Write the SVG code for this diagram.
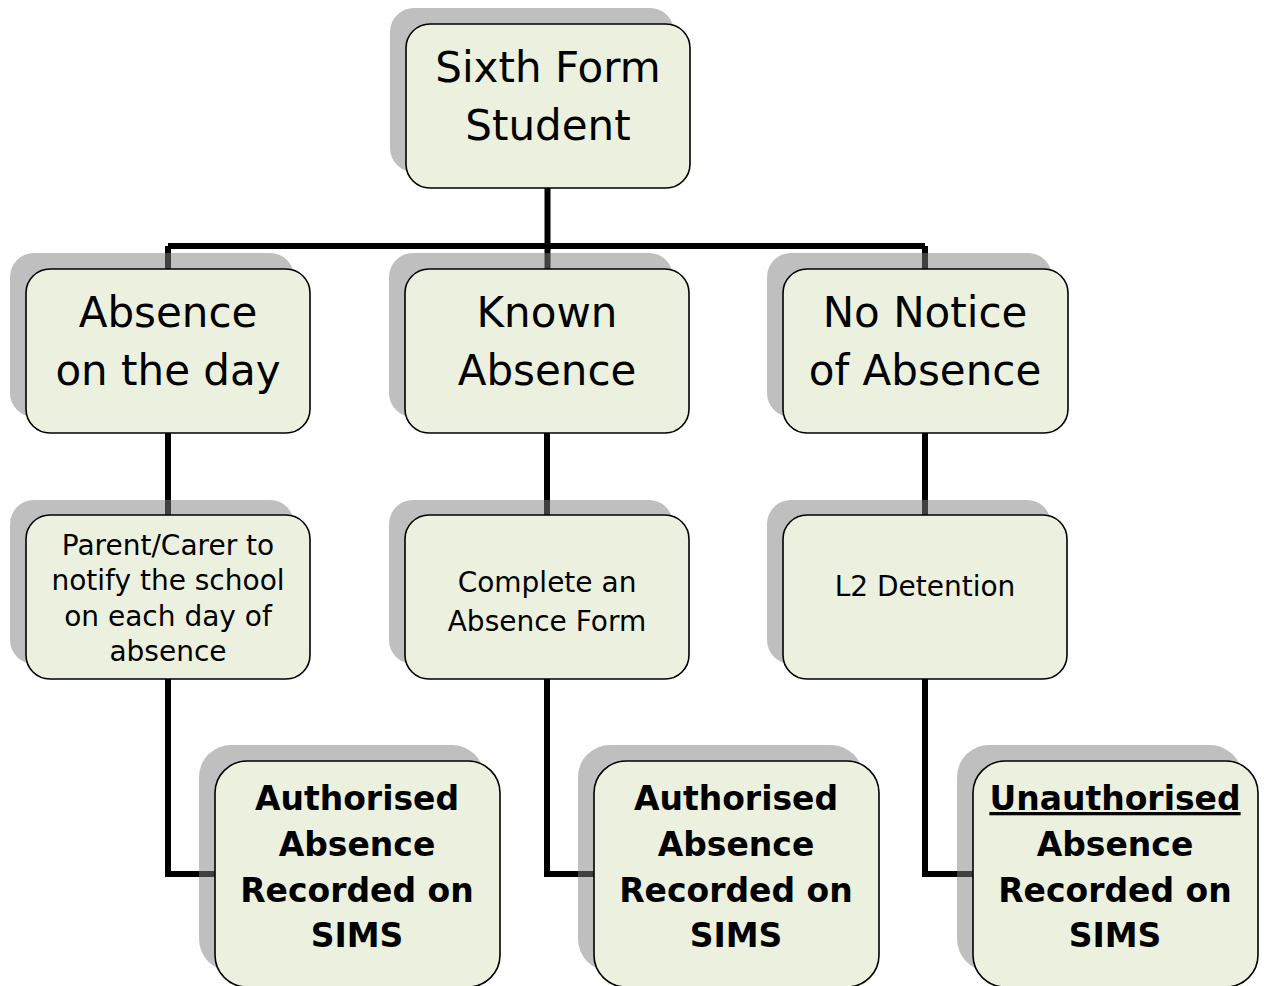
<svg xmlns="http://www.w3.org/2000/svg" width="1264" height="986" viewBox="0 0 1264 986">
<style>
.box{fill:#ebf1de;stroke:#000;stroke-width:1.6}
.sh{fill:#808080;fill-opacity:0.5}
.conn{fill:none;stroke:#000;stroke-width:6}
.t{font-family:"DejaVu Sans",sans-serif;fill:#000;text-anchor:middle}
.big{font-size:42px}
.mid{font-size:28px}
.bold{font-size:33px;font-weight:bold}
</style>
<rect width="1264" height="986" fill="#fff"/>
<g id="connectors">
<path class="conn" d="M547.5 188 V246 M168 246 H925 M168 246 V270 M547.5 246 V270 M925 246 V270"/>
<path class="conn" d="M168 433 V515 M547 433 V515 M925 433 V515"/>
<path class="conn" d="M168 679 V874 H216 M547 679 V874 H595 M925 679 V874 H974"/>
</g>
<g id="n-student">
<rect class="sh" x="390" y="8" width="284" height="164" rx="24"/>
<rect class="box" x="406" y="24" width="284" height="164" rx="24"/>
<text class="t big" x="548" y="82">Sixth Form</text>
<text class="t big" x="548" y="140">Student</text>
</g>
<g id="n-day">
<rect class="sh" x="10" y="253" width="284" height="164" rx="24"/>
<rect class="box" x="26" y="269" width="284" height="164" rx="24"/>
<text class="t big" x="168" y="327">Absence</text>
<text class="t big" x="168" y="385">on the day</text>
</g>
<g id="n-known">
<rect class="sh" x="389" y="253" width="284" height="164" rx="24"/>
<rect class="box" x="405" y="269" width="284" height="164" rx="24"/>
<text class="t big" x="547" y="327">Known</text>
<text class="t big" x="547" y="385">Absence</text>
</g>
<g id="n-nonotice">
<rect class="sh" x="767" y="253" width="285" height="164" rx="24"/>
<rect class="box" x="783" y="269" width="285" height="164" rx="24"/>
<text class="t big" x="925" y="327">No Notice</text>
<text class="t big" x="925" y="385">of Absence</text>
</g>
<g id="n-parent">
<rect class="sh" x="10" y="500" width="284" height="164" rx="24"/>
<rect class="box" x="26" y="515" width="284" height="164" rx="24"/>
<text class="t mid" x="168" y="555">Parent/Carer to</text>
<text class="t mid" x="168" y="590">notify the school</text>
<text class="t mid" x="168" y="626">on each day of</text>
<text class="t mid" x="168" y="661">absence</text>
</g>
<g id="n-form">
<rect class="sh" x="389" y="500" width="284" height="164" rx="24"/>
<rect class="box" x="405" y="515" width="284" height="164" rx="24"/>
<text class="t mid" x="547" y="592">Complete an</text>
<text class="t mid" x="547" y="631">Absence Form</text>
</g>
<g id="n-detention">
<rect class="sh" x="767" y="500" width="284" height="164" rx="24"/>
<rect class="box" x="783" y="515" width="284" height="164" rx="24"/>
<text class="t mid" x="925" y="596">L2 Detention</text>
</g>
<g id="n-auth1">
<rect class="sh" x="199" y="745" width="285" height="226" rx="32"/>
<rect class="box" x="215" y="761" width="285" height="226" rx="32"/>
<text class="t bold" x="357" y="810">Authorised</text>
<text class="t bold" x="357" y="856">Absence</text>
<text class="t bold" x="357" y="902">Recorded on</text>
<text class="t bold" x="357" y="947">SIMS</text>
</g>
<g id="n-auth2">
<rect class="sh" x="578" y="745" width="285" height="226" rx="32"/>
<rect class="box" x="594" y="761" width="285" height="226" rx="32"/>
<text class="t bold" x="736" y="810">Authorised</text>
<text class="t bold" x="736" y="856">Absence</text>
<text class="t bold" x="736" y="902">Recorded on</text>
<text class="t bold" x="736" y="947">SIMS</text>
</g>
<g id="n-unauth">
<rect class="sh" x="957" y="745" width="285" height="226" rx="32"/>
<rect class="box" x="973" y="761" width="285" height="226" rx="32"/>
<text class="t bold" x="1115" y="810" text-decoration="underline">Unauthorised</text>
<text class="t bold" x="1115" y="856">Absence</text>
<text class="t bold" x="1115" y="902">Recorded on</text>
<text class="t bold" x="1115" y="947">SIMS</text>
</g>
</svg>
